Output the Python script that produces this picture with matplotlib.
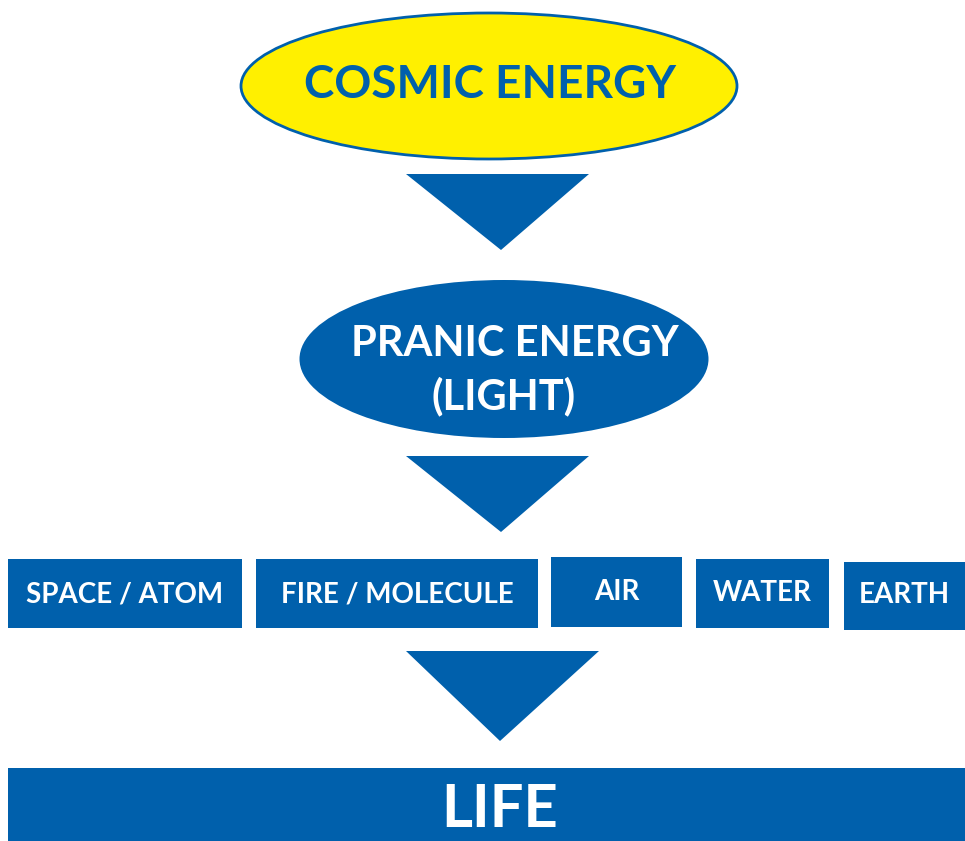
import matplotlib
matplotlib.use("Agg")
import matplotlib.pyplot as plt
from matplotlib.patches import Ellipse, Polygon, Rectangle

# labels
top_label = "COSMIC ENERGY"
mid_label = ["PRANIC ENERGY", "(LIGHT)"]
element_labels = ["SPACE / ATOM", "FIRE / MOLECULE", "AIR", "WATER", "EARTH"]
bottom_label = "LIFE"

# layout in pixels (x0, x1, y0, y1), y measured from top
element_boxes = [(8, 242, 559, 628), (256, 538, 559, 628), (551, 682, 557, 627),
                 (696, 829, 559, 628), (844, 965, 562, 630)]
element_text_y = [595, 595, 592, 593, 595]
arrows = [(406, 589, 174, 501, 250), (406, 589, 456, 501, 532), (406, 599, 651, 500, 741)]

blue = "#0060AC"
yellow = "#FFF000"
font = ["Lato", "DejaVu Sans"]

fig = plt.figure(figsize=(9.65, 8.41), dpi=100)
ax = fig.add_axes([0, 0, 1, 1])
ax.set_xlim(0, 965)
ax.set_ylim(841, 0)
ax.axis("off")

# cosmic energy
ax.add_patch(Ellipse((489, 86), 496, 146, facecolor=yellow, edgecolor=blue, lw=2))
ax.text(490, 85, top_label, color=blue, fontsize=33, fontweight="bold",
        family=font, ha="center", va="center")

# pranic energy
ax.add_patch(Ellipse((504, 359), 409, 158, facecolor=blue, edgecolor="none"))
ax.text(515, 344, mid_label[0], color="white", fontsize=30, fontweight="bold",
        family=font, ha="center", va="center")
ax.text(504, 396, mid_label[1], color="white", fontsize=30, fontweight="bold",
        family=font, ha="center", va="center")

# arrows
for xl, xr, yt, xa, ya in arrows:
    ax.add_patch(Polygon([(xl, yt), (xr, yt), (xa, ya)], closed=True,
                         facecolor=blue, edgecolor="none"))

# element boxes
for lab, (x0, x1, y0, y1), ty in zip(element_labels, element_boxes, element_text_y):
    ax.add_patch(Rectangle((x0, y0), x1 - x0, y1 - y0, facecolor=blue, edgecolor="none"))
    ax.text((x0 + x1) / 2, ty, lab, color="white", fontsize=20, fontweight="bold",
            family=font, ha="center", va="center")

# life bar
ax.add_patch(Rectangle((8, 768), 957, 73, facecolor=blue, edgecolor="none"))
ax.text(500, 810, bottom_label, color="white", fontsize=43, fontweight="bold",
        family=font, ha="center", va="center")

fig.savefig("out.png", dpi=100)
